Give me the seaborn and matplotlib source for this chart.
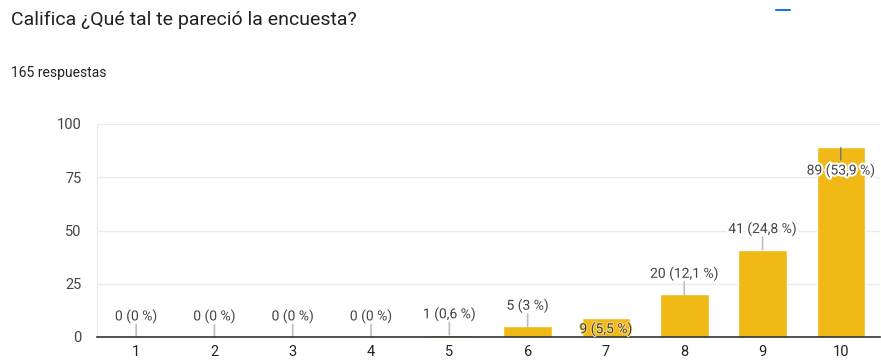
import matplotlib
matplotlib.use("Agg")
import matplotlib.pyplot as plt
import matplotlib.patheffects as pe
import seaborn as sns
import pandas as pd

# Survey answers: rating 1-10 and number of responses
ratings = ["1", "2", "3", "4", "5", "6", "7", "8", "9", "10"]
counts = [0, 0, 0, 0, 1, 5, 9, 20, 41, 89]
percent_labels = ["0 %", "0 %", "0 %", "0 %", "0,6 %", "3 %", "5,5 %",
                  "12,1 %", "24,8 %", "53,9 %"]
y_ticks = [0, 25, 50, 75, 100]
total_responses = 165

sns.set_theme(style="white")
plt.rcParams["font.family"] = ["Roboto", "DejaVu Sans"]

df = pd.DataFrame({"rating": ratings, "count": counts})

fig = plt.figure(figsize=(8.81, 3.63), dpi=100)
ax = fig.add_axes([97 / 881, 26 / 363, 783 / 881, 213 / 363])

sns.barplot(data=df, x="rating", y="count", color="#f1b915", saturation=1,
            width=0.62, ax=ax, zorder=3)

ax.set_ylim(0, 100)
ax.set_xlim(-0.5, len(ratings) - 0.5)
ax.set_yticks(y_ticks)
ax.set_yticklabels([str(t) for t in y_ticks], color="#444444", fontsize=10.5)
ax.tick_params(axis="y", length=0, pad=11)
ax.tick_params(axis="x", length=0, pad=6, labelsize=10.5, labelcolor="#222222")
ax.set_xlabel("")
ax.set_ylabel("")

for t in y_ticks[1:]:
    ax.axhline(t, color="#ebebeb", lw=1, zorder=1)

for side in ["top", "right"]:
    ax.spines[side].set_visible(False)
ax.spines["left"].set_color("#ebebeb")
ax.spines["left"].set_linewidth(1)
ax.spines["bottom"].set_color("#333333")
ax.spines["bottom"].set_linewidth(1.2)
ax.spines["bottom"].set_zorder(5)

# Value labels with a short leader stem above each bar
stem_pts = 9
label_shift = {"7": -13.5, "10": -22}
for i, (r, c, p) in enumerate(zip(ratings, counts, percent_labels)):
    halo = [pe.withStroke(linewidth=3, foreground="white")]
    if r not in label_shift:
        ax.annotate("", xy=(i, c), xytext=(0, stem_pts), textcoords="offset points",
                    arrowprops=dict(arrowstyle="-", color="#bdbdbd", lw=1.2,
                                    shrinkA=0, shrinkB=0), zorder=4)
        dy = stem_pts + 0.5
    else:
        if r == "10":
            ax.annotate("", xy=(i, c), xytext=(0, -stem_pts), textcoords="offset points",
                        arrowprops=dict(arrowstyle="-", color="#5f6f80", lw=0.9,
                                        shrinkA=0, shrinkB=0), zorder=4)
        else:
            halo = [pe.withStroke(linewidth=1.5, foreground="#f7d877")]
        dy = label_shift[r]
    ax.annotate(f"{c} ({p})", xy=(i, c), xytext=(0, dy), textcoords="offset points",
                ha="center", va="bottom", fontsize=10, color="#444444",
                path_effects=halo, zorder=6)

fig.text(11 / 881, 1 - 20 / 363, "Califica ¿Qué tal te pareció la encuesta?",
         fontsize=14, color="#202124", va="center", ha="left")
fig.text(11 / 881, 1 - 73 / 363, f"{total_responses} respuestas",
         fontsize=10, color="#202124", va="center", ha="left")

# Small accent mark in the header
fig.add_artist(plt.Line2D([776 / 881, 790 / 881], [1 - 10 / 363, 1 - 10 / 363],
                          color="#1a73e8", lw=1.5, transform=fig.transFigure))

fig.savefig("out.png", dpi=100, facecolor="white")
